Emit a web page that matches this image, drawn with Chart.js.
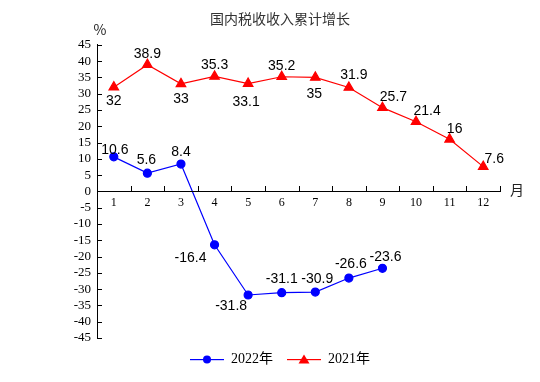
<!DOCTYPE html>
<html>
<head>
<meta charset="utf-8">
<script src="https://cdn.jsdelivr.net/npm/chart.js@4/dist/chart.umd.min.js"></script>
<style>
html,body{margin:0;padding:0;background:#fff;}
#wrap{width:540px;height:382px;}
</style>
</head>
<body>
<div id="wrap"><canvas id="c" width="540" height="382"></canvas></div>
<script>
const months = ['1','2','3','4','5','6','7','8','9','10','11','12'];
const growth2022 = [10.6, 5.6, 8.4, -16.4, -31.8, -31.1, -30.9, -26.6, -23.6, null, null, null];
const growth2021 = [32, 38.9, 33, 35.3, 33.1, 35.2, 35, 31.9, 25.7, 21.4, 16, 7.6];
const seriesNames = ['2022年', '2021年'];
const titleText = '国内税收收入累计增长';
const yUnit = '%';
const xUnit = '月';

// label offsets (style only)
const labelOffsets2022 = [[1,-7],[-1,-13],[0,-12],[-24,13],[-17,11],[0,-14],[2,-13],[2,-14],[3,-11]];
const labelOffsets2021 = [[0,14],[0,-11],[0,15],[0,-11],[-2,19],[0,-11],[-1,17],[5,-12],[11,-11],[11,-11],[5,-10],[11,-8]];

const SERIF = "'Liberation Serif','Times New Roman','Noto Sans CJK SC',serif";
const SANS = "'Liberation Sans',Arial,sans-serif";
const CJK = "'Noto Sans CJK SC',sans-serif";

function legendIcon(color, kind) {
  const cv = document.createElement('canvas');
  cv.width = 34; cv.height = 12;
  const g = cv.getContext('2d');
  g.fillStyle = color;
  g.fillRect(0, 6, 34, 1.2);
  g.beginPath();
  if (kind === 'circle') { g.arc(17, 6.5, 4, 0, Math.PI * 2); }
  else { g.moveTo(17, 1.5); g.lineTo(22.5, 10.5); g.lineTo(11.5, 10.5); g.closePath(); }
  g.fill();
  return cv;
}

const decor = {
  id: 'decor',
  afterDraw(chart) {
    const ctx = chart.ctx;
    const x = chart.scales.x, y = chart.scales.y;
    ctx.save();
    ctx.globalAlpha = 1;
    ctx.globalCompositeOperation = 'source-over';
    ctx.fillStyle = '#000000';
    const ax = Math.round(chart.chartArea.left);
    const yTop = Math.round(y.getPixelForValue(45));
    const yBot = Math.round(y.getPixelForValue(-45));
    // y axis line
    ctx.fillRect(ax, yTop, 1, yBot - yTop + 1);
    // y ticks inward
    for (let i = 0; i < y.ticks.length; i++) {
      const py = Math.round(y.getPixelForValue(y.ticks[i].value));
      ctx.fillRect(ax, py, 5, 1);
    }
    // x axis line at zero and ticks at category boundaries, pointing up
    const y0 = Math.round(y.getPixelForValue(0));
    ctx.fillRect(ax, y0, Math.round(chart.chartArea.right) - ax + 1, 1);
    const step = (x.right - x.left) / months.length;
    for (let k = 1; k <= months.length; k++) {
      const px = Math.round(x.left + step * k);
      ctx.fillRect(px, y0 - 5, 1, 5);
    }
    ctx.fillStyle = '#222';
    ctx.font = '14px ' + CJK;
    ctx.textAlign = 'center'; ctx.textBaseline = 'middle';
    ctx.fillText(yUnit, ax + 3, yTop - 15);
    ctx.fillText(xUnit, Math.round(chart.chartArea.right) + 17, y0 - 1);
    ctx.restore();
  },
  afterDatasetsDraw(chart) {
    const ctx = chart.ctx;
    ctx.save();
    ctx.font = '14px ' + SANS;
    ctx.fillStyle = '#000';
    ctx.textAlign = 'center'; ctx.textBaseline = 'middle';
    const offs = [labelOffsets2022, labelOffsets2021];
    chart.data.datasets.forEach((ds, di) => {
      const meta = chart.getDatasetMeta(di);
      ds.data.forEach((v, i) => {
        if (v === null) return;
        const el = meta.data[i];
        const o = offs[di][i] || [0, -10];
        ctx.fillText(String(v), el.x + o[0], el.y + o[1]);
      });
    });
    ctx.restore();
  }
};

new Chart(document.getElementById('c'), {
  type: 'line',
  data: {
    labels: months,
    datasets: [
      {
        label: seriesNames[0], data: growth2022,
        borderColor: '#0000ff', backgroundColor: '#0000ff',
        borderWidth: 1.2, pointStyle: 'circle', pointRadius: 4, pointHoverRadius: 4,
        tension: 0, spanGaps: false
      },
      {
        label: seriesNames[1], data: growth2021,
        borderColor: '#ff0000', backgroundColor: '#ff0000',
        borderWidth: 1.2, pointStyle: 'triangle', pointRadius: 5.5, pointHoverRadius: 5.5,
        tension: 0
      }
    ]
  },
  options: {
    responsive: false,
    animation: false,
    events: [],
    layout: { padding: { left: 60, right: 40, top: 0, bottom: 6 } },
    plugins: {
      title: {
        display: true, text: titleText, color: '#333',
        font: { family: CJK, size: 14, weight: 'normal' },
        padding: { top: 10, bottom: 18 }
      },
      legend: {
        display: true, position: 'bottom',
        labels: {
          usePointStyle: true, pointStyleWidth: 34, boxHeight: 12,
          padding: 14, color: '#000',
          font: { family: SERIF, size: 14 },
          generateLabels(chart) {
            return chart.data.datasets.map((ds, i) => ({
              text: ds.label,
              pointStyle: legendIcon(ds.borderColor, i === 0 ? 'circle' : 'triangle'),
              fillStyle: ds.borderColor, strokeStyle: ds.borderColor,
              lineWidth: 0, fontColor: '#000', hidden: false, datasetIndex: i
            }));
          }
        }
      },
      tooltip: { enabled: false }
    },
    scales: {
      x: {
        type: 'category', position: { y: 0 }, offset: true,
        grid: { display: false, drawTicks: false },
        border: { display: false },
        ticks: { color: '#000', font: { family: SERIF, size: 12 }, padding: 4, maxRotation: 0, autoSkip: false }
      },
      y: {
        min: -45, max: 45,
        grid: { display: false, drawTicks: false },
        border: { display: true, color: '#000', width: 1 },
        ticks: { stepSize: 5, autoSkip: false, color: '#000', font: { family: SERIF, size: 13 }, padding: 6 },
        afterFit(s) { s.width = 37; }
      }
    }
  },
  plugins: [decor]
});
</script>
</body>
</html>
